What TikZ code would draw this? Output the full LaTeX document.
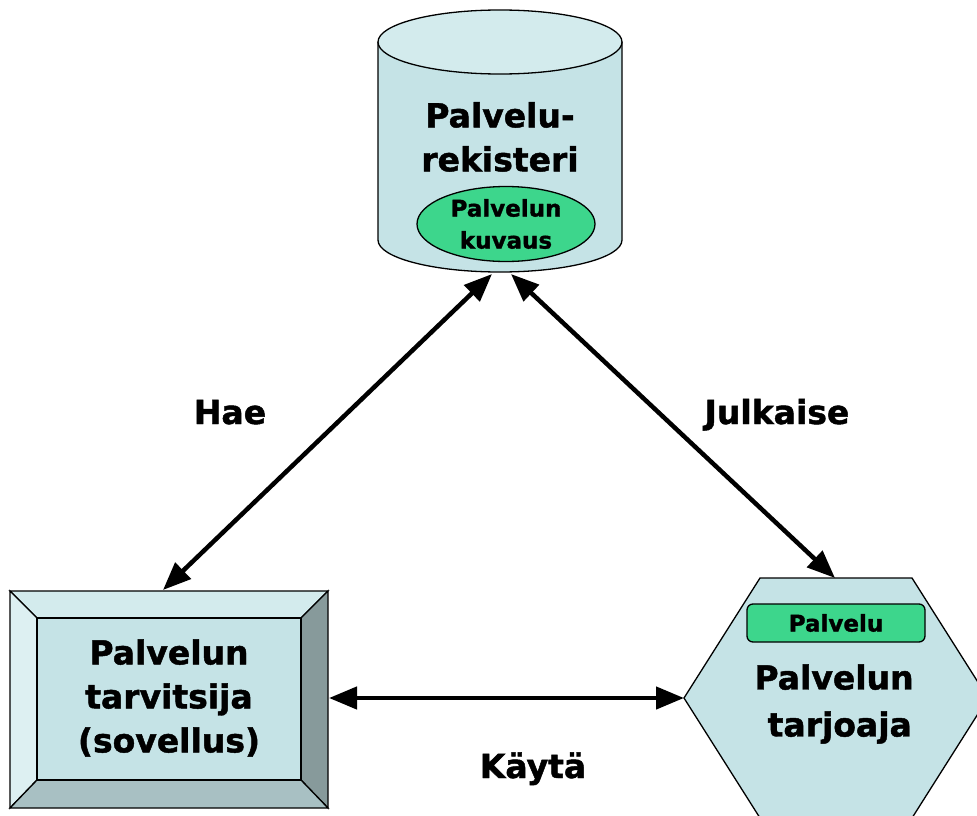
\documentclass[tikz,border=0pt]{standalone}
\usepackage{fontspec}
\setmainfont{DejaVu Sans}[BoldFeatures={FakeBold=1.4}]
\usetikzlibrary{arrows.meta,shapes.geometric}

\definecolor{pohja}{HTML}{C5E3E6}
\definecolor{kansi}{HTML}{D3EBED}
\definecolor{vihrea}{HTML}{3DD68C}
\definecolor{viistoV}{HTML}{DDF0F2}
\definecolor{viistoY}{HTML}{D3EBED}
\definecolor{viistoO}{HTML}{879A9B}
\definecolor{viistoA}{HTML}{A8C0C3}

\tikzset{
  muoto/.style={draw=black, line width=1.3pt},
  iso/.style={font=\bfseries\fontsize{33}{44}\selectfont, align=center, inner sep=0pt},
  pieni/.style={font=\bfseries\fontsize{23}{32}\selectfont, align=center, inner sep=0pt},
  nuoli/.style={line width=4.5pt, {Triangle[length=28pt,width=22pt]}-{Triangle[length=28pt,width=22pt]}},
}

\begin{document}
\begin{tikzpicture}[x=1pt, y=-1pt]
    \clip (0,0) rectangle (977,816);

    % Rekisteri
    \path[muoto, fill=pohja] (378,42) -- (378,240)
        arc[start angle=180, end angle=0, x radius=122, y radius=32] -- (622,42);
    \path[muoto, fill=kansi] (500,42) ellipse[x radius=122, y radius=32];
    \node[iso] (rekisteri) at (500,137) {Palvelu-\\rekisteri};
    \node[pieni, muoto, fill=vihrea, ellipse, minimum width=178pt, minimum height=75pt] (kuvaus) at (506,224) {Palvelun\\kuvaus};

    % Tarvitsija
    \path[muoto, fill=viistoY] (10,591) -- (328,591) -- (301,618) -- (37,618) -- cycle;
    \path[muoto, fill=viistoV] (10,591) -- (37,618) -- (37,780) -- (10,808) -- cycle;
    \path[muoto, fill=viistoO] (328,591) -- (328,808) -- (301,780) -- (301,618) -- cycle;
    \path[muoto, fill=viistoA] (10,808) -- (37,780) -- (301,780) -- (328,808) -- cycle;
    \path[muoto, fill=pohja] (37,618) rectangle (301,780);
    \node[iso] (tarvitsija) at (169,698) {Palvelun\\tarvitsija\\(sovellus)};

    % Tarjoaja
    \path[muoto, fill=pohja] (684,698) -- (760,578) -- (912,578) -- (988,698)
        -- (912,818) -- (760,818) -- cycle;
    \node[pieni, muoto, fill=vihrea, rounded corners=6pt, minimum width=178pt, minimum height=38pt] (palvelu) at (836,623) {Palvelu};
    \node[iso, font=\bfseries\fontsize{33}{47}\selectfont] (tarjoaja) at (834,704) {Palvelun\\\ tarjoaja};

    % Liitospisteet
    \coordinate (rek-vasen) at (492,274);
    \coordinate (rek-oikea) at (511,274);
    \coordinate (tarv-ylä) at (163,590);
    \coordinate (tarv-oikea) at (329,698);
    \coordinate (tarj-ylä) at (835,578);
    \coordinate (tarj-vasen) at (684,698);

    % Nuolet
    \draw[nuoli] (tarv-ylä) -- (rek-vasen);
    \draw[nuoli] (rek-oikea) -- (tarj-ylä);
    \draw[nuoli] (tarv-oikea) -- (tarj-vasen);

    % Tekstit
    \node[iso, anchor=base] (hae) at (230,424) {Hae};
    \node[iso, anchor=base] (julkaise) at (777,424) {Julkaise};
    \node[iso, anchor=base] (kayta) at (533,778) {Käytä};

\end{tikzpicture}
\end{document}
